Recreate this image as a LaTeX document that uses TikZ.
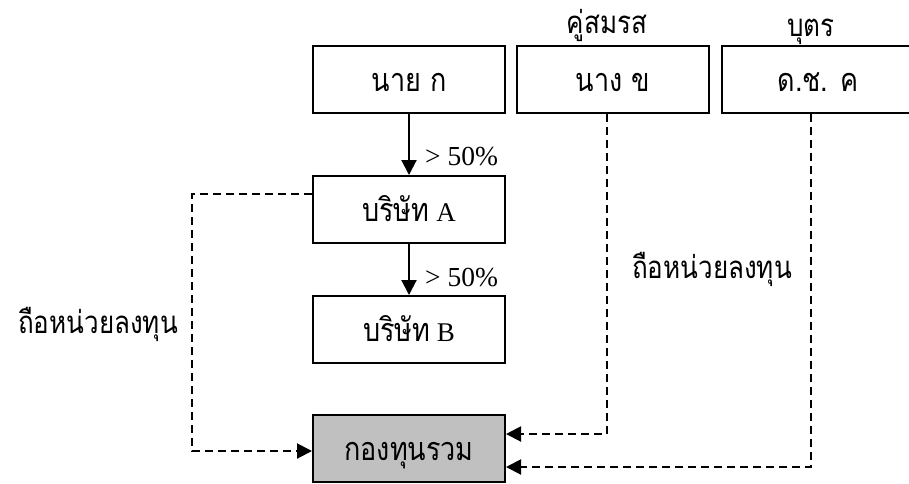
\documentclass[tikz,border=0pt]{standalone}
\usepackage{fontspec}
\setmainfont{Liberation Serif}
\newfontfamily\thai[Script=Thai]{Loma}
\newcommand\tht[1]{\scalebox{1}[1.2]{\thai #1}}
\usetikzlibrary{arrows.meta}
\definecolor{boxgray}{RGB}{192,192,192}
\tikzset{
  box/.style={draw, line width=2pt, minimum width=192pt, minimum height=67pt,
    inner sep=0pt, text height=26pt, text depth=2pt,
    font=\fontsize{27}{30}\selectfont},
  solidarrow/.style={line width=2pt, -{Triangle[length=15pt,width=15pt]}},
  dasharrow/.style={line width=2pt, dash pattern=on 8pt off 5pt, -{Triangle[length=15pt,width=15pt]}},
  pct/.style={font=\fontsize{27.5}{30}\selectfont, inner sep=0pt},
  thailabel/.style={font=\fontsize{26}{30}\selectfont, inner sep=0pt}
}
\begin{document}
\begin{tikzpicture}[x=1pt,y=-1pt]
\useasboundingbox (0,0) rectangle (909,483);
\node[box] (nai) at (409,79.5) {\tht{นาย ก}};
\node[box] (nang) at (613,79.5) {\tht{นาง ข}};
\node[box] (child) at (818,79.5) {\tht{ด.ช. ค}};
\node[box] (A) at (409,209.5) {\tht{บริษัท} A};
\node[box] (B) at (409,329.5) {\tht{บริษัท} B};
\node[box, fill=boxgray] (fund) at (409,448.5) {\tht{กองทุนรวม}};
\node[thailabel, anchor=base] (spouse) at (607,33) {\tht{คู่สมรส}};
\node[thailabel, anchor=base] (son) at (811,36) {\tht{บุตร}};
\node[pct, anchor=base west] (p1) at (425,165) {> 50\%};
\node[pct, anchor=base west] (p2) at (425,286) {> 50\%};
\node[thailabel, anchor=base] (hl) at (98,333) {\tht{ถือหน่วยลงทุน}};
\node[thailabel, anchor=base] (hr) at (712,278) {\tht{ถือหน่วยลงทุน}};
\draw[solidarrow] (nai) -- (A);
\draw[solidarrow] (A) -- (B);
\draw[dasharrow] ([yshift=15.5pt]A.west) -- ++(-120,0) |- ([yshift=-2.5pt]fund.west);
\draw[dasharrow] ([xshift=-6pt]nang.south) |- ([yshift=14.5pt]fund.east);
\draw[dasharrow] ([xshift=-7pt]child.south) |- ([yshift=-18.5pt]fund.east);
\end{tikzpicture}
\end{document}
